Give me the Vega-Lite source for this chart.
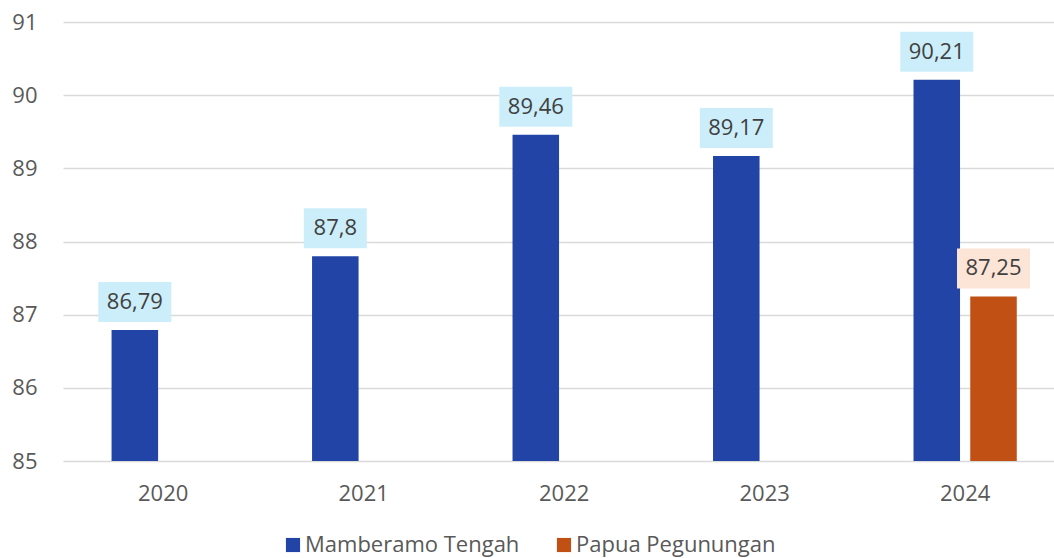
{
  "$schema": "https://vega.github.io/schema/vega-lite/v6.json",
  "width": 991,
  "height": 439,
  "autosize": "none",
  "padding": {"left": 63, "top": 22, "right": 0, "bottom": 97},
  "background": "white",
  "config": {
    "view": {"stroke": null},
    "font": "Open Sans"
  },
  "data": {
    "values": [
      {"year": "2020", "series": "Mamberamo Tengah", "value": 86.79, "label": "86,79"},
      {"year": "2021", "series": "Mamberamo Tengah", "value": 87.8, "label": "87,8"},
      {"year": "2022", "series": "Mamberamo Tengah", "value": 89.46, "label": "89,46"},
      {"year": "2023", "series": "Mamberamo Tengah", "value": 89.17, "label": "89,17"},
      {"year": "2024", "series": "Mamberamo Tengah", "value": 90.21, "label": "90,21"},
      {"year": "2024", "series": "Papua Pegunungan", "value": 87.25, "label": "87,25"}
    ]
  },
  "encoding": {
    "x": {
      "field": "year", "type": "nominal",
      "scale": {"paddingInner": 0.434, "paddingOuter": 0.1885, "align": 0.575},
      "axis": {"title": null, "labelAngle": 0, "domain": false, "ticks": false, "labelFontSize": 22, "labelColor": "#595959", "labelPadding": 22, "labelFont": "Open Sans"}
    },
    "xOffset": {"field": "series", "type": "nominal", "scale": {"domain": ["Mamberamo Tengah", "Papua Pegunungan"], "paddingInner": 0.18, "paddingOuter": 0.09}}
  },
  "layer": [
    {
      "mark": {"type": "bar"},
      "encoding": {
        "y": {
          "field": "value", "type": "quantitative",
          "scale": {"domain": [85, 91], "zero": false, "nice": false},
          "axis": {"title": null, "tickCount": 6, "domain": false, "ticks": false, "labelFontSize": 22, "labelColor": "#595959", "labelPadding": 26, "gridColor": "#D9D9D9", "gridWidth": 1.5, "labelFont": "Open Sans"}
        },
        "y2": {"datum": 85},
        "color": {
          "field": "series", "type": "nominal",
          "scale": {"domain": ["Mamberamo Tengah", "Papua Pegunungan"], "range": ["#2144A6", "#C05014"]},
          "legend": {"title": null, "orient": "none", "legendX": 219, "legendY": 512, "direction": "horizontal", "symbolType": "square", "symbolSize": 200, "symbolStrokeWidth": 0, "labelFontSize": 22, "labelOffset": 1, "labelColor": "#595959", "columnPadding": 33, "labelLimit": 0, "labelFont": "Open Sans", "symbolOpacity": 1}
        }
      }
    },
    {
      "mark": {"type": "bar", "yOffset": -48, "y2Offset": -8},
      "encoding": {
        "y": {"field": "value", "type": "quantitative"},
        "y2": {"field": "value"},
        "size": {"condition": {"test": "length(datum.label) < 5", "value": 63}, "value": 73},
        "color": {
          "field": "series", "type": "nominal",
          "scale": {"domain": ["Mamberamo Tengah", "Papua Pegunungan"], "range": ["#CCEEFA", "#FCE4D6"]},
          "legend": null
        }
      }
    },
    {
      "mark": {"type": "text", "yOffset": -28, "baseline": "middle", "fontSize": 22, "color": "#404040", "font": "Open Sans"},
      "encoding": {
        "y": {"field": "value", "type": "quantitative"},
        "text": {"field": "label"}
      }
    }
  ],
  "resolve": {"scale": {"color": "independent"}}
}
